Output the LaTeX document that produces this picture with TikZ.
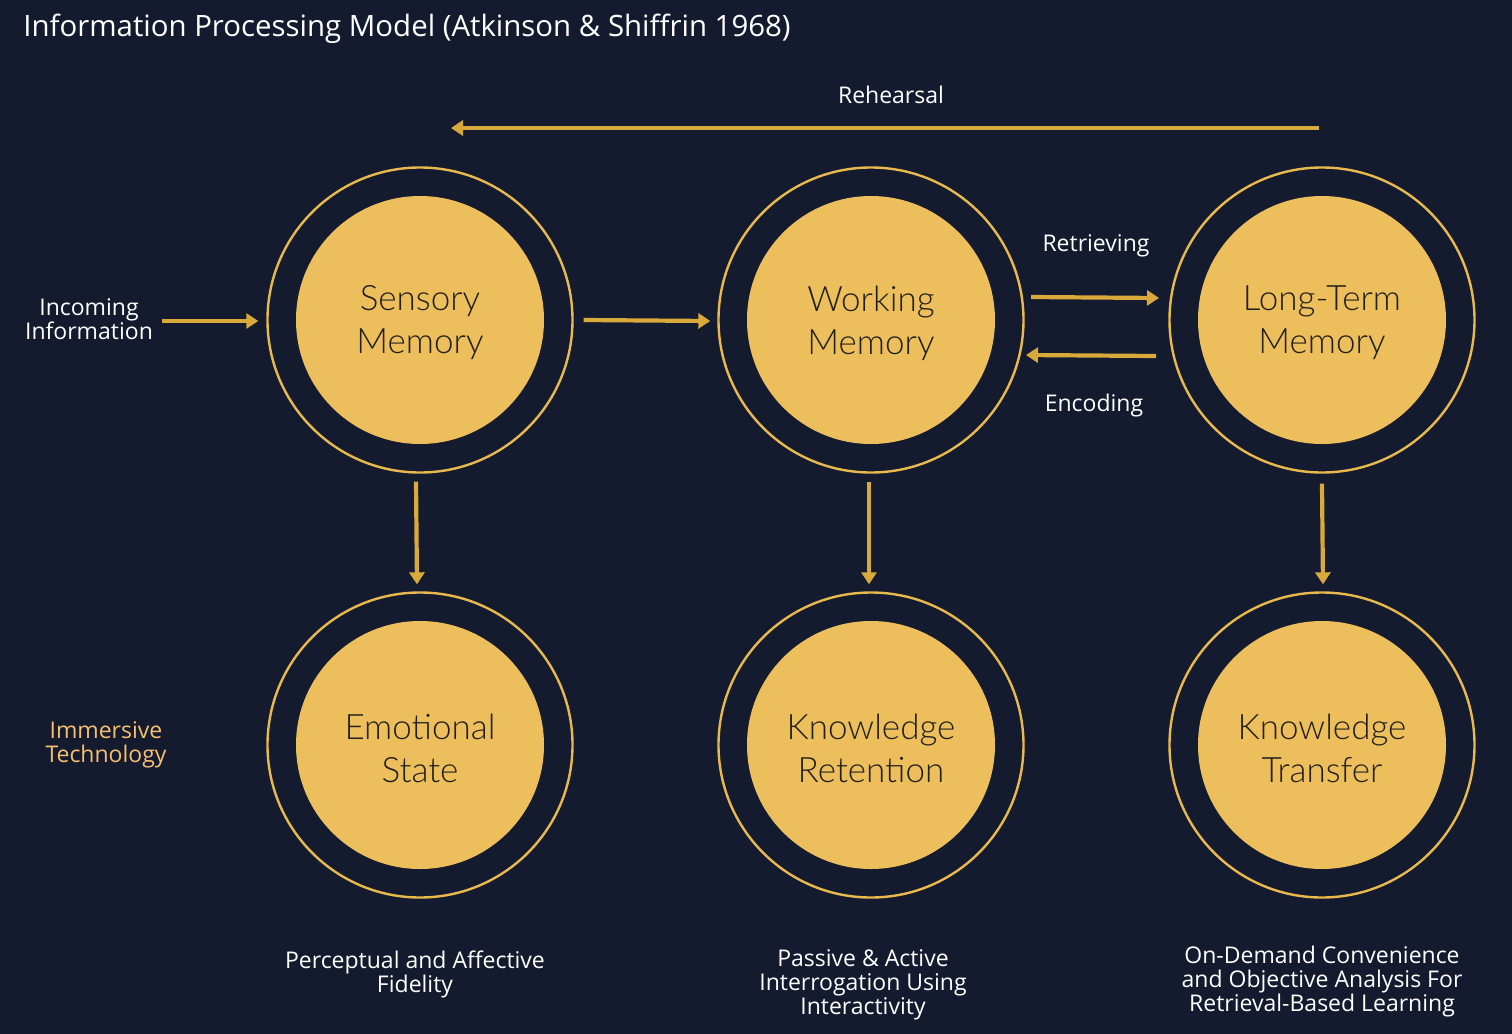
\documentclass[tikz,border=0pt]{standalone}
\usepackage{fontspec}
\setmainfont{Open Sans}
\newfontfamily\circfont{Lato}[UprightFont=* Light]
\usetikzlibrary{arrows.meta,calc}
\definecolor{bg}{HTML}{141B2F}
\definecolor{gold}{HTML}{ECBE5C}
\definecolor{ring}{HTML}{E8B94C}
\definecolor{arr}{HTML}{D9A93A}
\definecolor{dark}{HTML}{221F1B}
\definecolor{peach}{HTML}{F6C070}
\tikzset{
  core/.style={circle,fill=gold,minimum size=124pt,inner sep=0pt},
  ctext/.style={align=center,inner sep=0pt,
    font=\circfont\fontsize{17.5pt}{21.5pt}\selectfont,text=dark},
  halo/.style={circle,draw=ring,line width=1.2pt,minimum size=152.5pt,inner sep=0pt},
  flow/.style={draw=arr,line width=2.1pt,-{Triangle[length=6pt,width=7.5pt]}},
  lbl/.style={text=white,align=center,font=\fontsize{11.5pt}{12pt}\selectfont,inner sep=0pt},
}
\begin{document}
\begin{tikzpicture}[x=0.5pt,y=-0.5pt]
\path[fill=bg,use as bounding box] (0,0) rectangle (1512,1034);
% title
\node[anchor=west,text=white,inner sep=0pt,font=\fontsize{14.7pt}{16pt}\selectfont] (title) at (23,29) {Information Processing Model (Atkinson \& Shiffrin 1968)};
% circles
\node[core] (sm) at (420,320) {};
\node[halo] (smr) at (420,320) {};
\node[ctext] (smt) at ($(sm)+(0,3)$) {Sensory\\Memory};
\node[core] (wm) at (871,320) {};
\node[halo] (wmr) at (871,320) {};
\node[ctext] (wmt) at ($(wm)+(0,3)$) {Working\\Memory};
\node[core] (lt) at (1322,320) {};
\node[halo] (ltr) at (1322,320) {};
\node[ctext] (ltt) at ($(lt)+(0,3)$) {Long-Term\\Memory};
\node[core] (es) at (420,745) {};
\node[halo] (esr) at (420,745) {};
\node[ctext] (est) at ($(es)+(0,3)$) {Emotional\\State};
\node[core] (kr) at (871,745) {};
\node[halo] (krr) at (871,745) {};
\node[ctext] (krt) at ($(kr)+(0,3)$) {Knowledge\\Retention};
\node[core] (kt) at (1322,745) {};
\node[halo] (ktr) at (1322,745) {};
\node[ctext] (ktt) at ($(kt)+(0,3)$) {Knowledge\\Transfer};
% labels
\node[lbl] (inc) at (89,319) {Incoming\\Information};
\node[lbl,text=peach] (imm) at (106,745) {Immersive\\Technology};
\node[lbl] (reh) at (891,95) {Rehearsal};
\node[lbl] (ret) at (1096,246) {Retrieving};
\node[lbl] (enc) at (1094,406) {Encoding};
\node[lbl] (pf) at (415,974) {Perceptual and Affective\\Fidelity};
\node[lbl] (pa) at (863,985) {Passive \& Active\\Interrogation Using\\Interactivity};
\node[lbl] (od) at (1322,982) {On-Demand Convenience\\and Objective Analysis For\\Retrieval-Based Learning};
% arrows
\draw[flow] ($(inc.east)+(9,2)$) -- ($(smr.west)+(-8,1)$);
\draw[flow] ($(smr.east)+(10,0)$) -- ($(wmr.west)+(-7,1)$);
\draw[flow] ($(wm)+(160,-23)$) -- ($(lt)+(-163,-22)$);
\draw[flow] ($(lt)+(-166,36)$) -- ($(wm)+(155,35)$);
\draw[flow] ($(lt)+(-3,-192)$) -- ($(sm)+(31,-192)$);
\draw[flow] ($(smr.south)+(-4,8)$) -- ($(esr.north)+(-3,-7)$);
\draw[flow] ($(wmr.south)+(-2,8)$) -- ($(krr.north)+(-2,-7)$);
\draw[flow] ($(ltr.south)+(0,10)$) -- ($(ktr.north)+(1,-7)$);
\end{tikzpicture}
\end{document}
